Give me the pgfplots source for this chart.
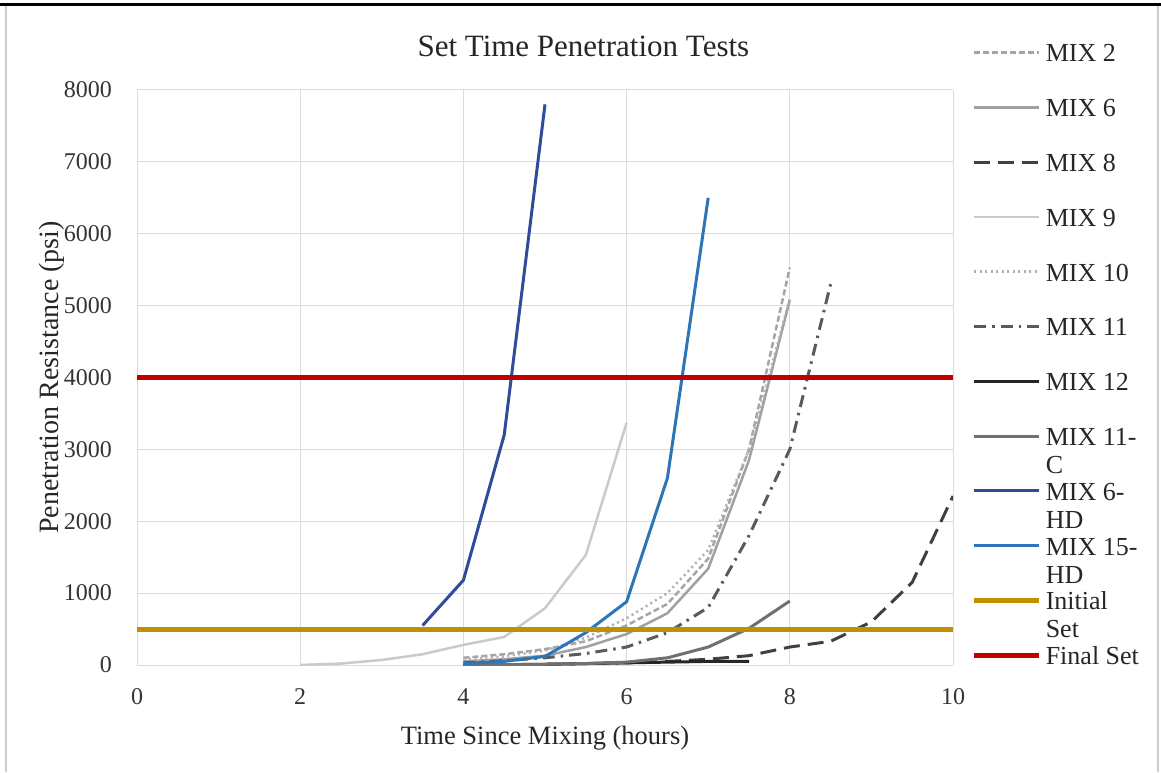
\documentclass[border=0pt]{standalone}
\usepackage{fontspec}
\setmainfont{Liberation Serif}
\usepackage{pgfplots}
\pgfplotsset{compat=1.18}
\definecolor{cA}{HTML}{A5A5A5}
\definecolor{cB}{HTML}{A0A0A0}
\definecolor{cC}{HTML}{404040}
\definecolor{cD}{HTML}{CACACA}
\definecolor{cE}{HTML}{B0B0B0}
\definecolor{cF}{HTML}{5A5A5A}
\definecolor{cG}{HTML}{262626}
\definecolor{cH}{HTML}{707070}
\definecolor{cI}{HTML}{2F4B9B}
\definecolor{cJ}{HTML}{2E75B6}
\definecolor{cK}{HTML}{BF9000}
\definecolor{cL}{HTML}{C00000}
\definecolor{gridc}{HTML}{DCDCDC}
\newcommand{\LE}[1]{\raisebox{0pt}[27.4pt][27.4pt]{\begin{tabular}[t]{@{}l@{}}#1\end{tabular}}}
\begin{document}
\begin{tikzpicture}
\begin{axis}[
  at={(137pt,107pt)}, anchor=south west,
  scale only axis, width=816pt, height=575pt,
  xmin=0, xmax=10, ymin=0, ymax=8000,
  xtick={0,2,4,6,8,10}, ytick={0,1000,...,8000},
  grid=major, major grid style={gridc, line width=1pt},
  major tick length=0pt,
  axis line style={draw=none},
  /pgf/number format/assume math mode=true,
  /pgf/number format/set thousands separator={},
  tick label style={font=\fontsize{24}{28}\selectfont, text=black!80},
  yticklabel style={inner sep=0pt, anchor=east, xshift=-25pt},
  xticklabel style={inner sep=0pt, anchor=north, yshift=-23pt},
  title={Set Time Penetration Tests},
  title style={at={(0.547,1.066)}, anchor=center, font=\fontsize{31}{36}\selectfont, text=black!85},
  xlabel={Time Since Mixing (hours)},
  xlabel style={at={(0.5,-0.127)}, anchor=center, font=\fontsize{26.5}{30}\selectfont, text=black!85},
  ylabel={Penetration Resistance (psi)},
  ylabel style={at={(-0.105,0.5)}, anchor=center, font=\fontsize{28}{32}\selectfont, text=black!85},
  legend cell align=left,
  legend image code/.code={\path[draw=none,fill=none] (0pt,-27.4pt) rectangle (65pt,27.4pt); \draw[#1] (0pt,-3.5pt) -- (65pt,-3.5pt);},
  legend style={draw=none, fill=none, at={(1.023,1.119)}, anchor=north west,
    inner sep=0pt, outer sep=0pt, row sep=0pt, column sep=4pt,
    nodes={inner sep=0pt, outer sep=0pt, font=\fontsize{26}{28}\selectfont, text=black!85}},
]
\addplot[cA, line width=2.5pt, dash pattern=on 6pt off 3pt] coordinates {(4,100) (4.5,150) (5,220) (5.5,330) (6,550) (6.5,850) (7,1480) (7.5,3000) (8,5530)};
\addlegendentry{\LE{MIX 2}}
\addplot[cB, line width=2.5pt] coordinates {(4,50) (4.5,80) (5,130) (5.5,250) (6,430) (6.5,720) (7,1340) (7.5,2850) (8,5080)};
\addlegendentry{\LE{MIX 6}}
\addplot[cC, line width=3pt, dash pattern=on 16pt off 8pt] coordinates {(5,10) (5.5,20) (6,30) (6.5,50) (7,80) (7.5,130) (8,250) (8.5,330) (9,600) (9.5,1150) (10,2350)};
\addlegendentry{\LE{MIX 8}}
\addplot[cD, line width=2.5pt] coordinates {(2,0) (2.5,20) (3,70) (3.5,150) (4,280) (4.5,390) (5,790) (5.5,1530) (6,3370)};
\addlegendentry{\LE{MIX 9}}
\addplot[cE, line width=2.5pt, dash pattern=on 2pt off 3.5pt] coordinates {(4,80) (4.5,120) (5,200) (5.5,380) (6,650) (6.5,1000) (7,1600) (7.5,3000) (8,5100)};
\addlegendentry{\LE{MIX 10}}
\addplot[cF, line width=3pt, dash pattern=on 12pt off 6pt on 2.5pt off 6pt] coordinates {(4,30) (4.5,60) (5,100) (5.5,160) (6,250) (6.5,450) (7,800) (7.5,1800) (8,3000) (8.5,5300)};
\addlegendentry{\LE{MIX 11}}
\addplot[cG, line width=3pt] coordinates {(4,0) (4.5,5) (5,10) (5.5,20) (6,30) (6.5,40) (7,50) (7.5,50)};
\addlegendentry{\LE{MIX 12}}
\addplot[cH, line width=3pt] coordinates {(4,0) (4.5,5) (5,10) (5.5,20) (6,40) (6.5,100) (7,250) (7.5,510) (8,890)};
\addlegendentry{\LE{MIX 11-\\C}}
\addplot[cI, line width=3pt] coordinates {(3.5,550) (4,1180) (4.5,3200) (5,7800)};
\addlegendentry{\LE{MIX 6-\\HD}}
\addplot[cJ, line width=3pt] coordinates {(4,20) (4.5,50) (5,120) (5.5,450) (6,880) (6.5,2600) (7,6500)};
\addlegendentry{\LE{MIX 15-\\HD}}
\addplot[cK, line width=5pt] coordinates {(0,500) (10,500)};
\addlegendentry{\LE{Initial\\Set}}
\addplot[cL, line width=5pt] coordinates {(0,4000) (10,4000)};
\addlegendentry{\LE{Final Set}}
\end{axis}
\draw[line width=3pt, black] (0pt,767pt) -- (1161pt,767pt);
\draw[line width=1.5pt, black!20] (6pt,0pt) -- (6pt,766pt);
\draw[line width=1.5pt, black!20] (1158pt,0pt) -- (1158pt,766pt);
\pgfresetboundingbox
\useasboundingbox (0pt,0pt) rectangle (1161pt,772pt);
\end{tikzpicture}
\end{document}
